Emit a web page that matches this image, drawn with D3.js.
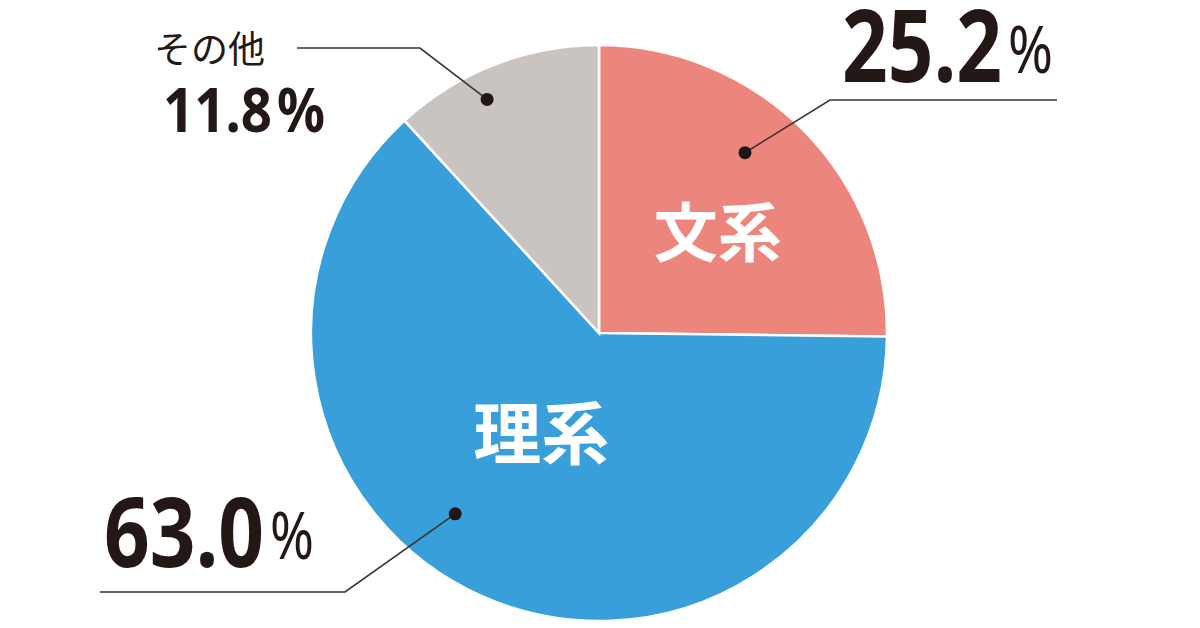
<!DOCTYPE html>
<html>
<head>
<meta charset="utf-8">
<script src="https://cdn.jsdelivr.net/npm/d3@7"></script>
<style>
  body { margin: 0; background: #fff; }
  svg { display: block; }
</style>
</head>
<body>
<div id="chart"></div>
<script>
// shares of students by field
var categories = ["文系", "理系", "その他"];
var values = [25.2, 63.0, 11.8];
var valueLabels = ["25.2", "63.0", "11.8"];
var colors = ["#ec857b", "#389fda", "#c9c4c0"];

var width = 1200, height = 628;
var cx = 599, cy = 333, radius = 288;

// callout layout: dot angle (deg clockwise from top) and radius, elbow, line end,
// number box (x, baseline, width, size) and percent sign box
var layout = [
  {dotA: 39, dotR: 232, elbow: [830, 100], end: 1057,
   num: [842, 82, 160, 100], pct: [1008, 73, 45, 66, 400], inner: [50, 155], innerSize: 64},
  {dotA: 218.5, dotR: 231, elbow: [345, 592], end: 100,
   num: [104, 567, 160, 97], pct: [270, 559, 44, 66, 400], inner: [209.6, 117], innerSize: 68},
  {dotA: 334.4, dotR: 259, elbow: [420, 48], end: 297,
   num: [163, 132, 109, 61], pct: [277, 132, 48, 61, 700], inner: null}
];

var svg = d3.select("#chart").append("svg")
    .attr("width", width)
    .attr("height", height);

var g = svg.append("g")
    .attr("transform", "translate(" + cx + "," + cy + ")");

var pie = d3.pie().sort(null).value(function(d) { return d; });
var arc = d3.arc().innerRadius(0).outerRadius(radius);
var arcs = pie(values);

g.selectAll("path.slice")
    .data(arcs)
  .enter().append("path")
    .attr("class", "slice")
    .attr("d", arc)
    .attr("fill", function(d, i) { return colors[i]; })
    .attr("stroke", "#fff")
    .attr("stroke-width", 2.5);

function polar(a, r) {
  var t = a * Math.PI / 180;
  return [cx + r * Math.sin(t), cy - r * Math.cos(t)];
}

var numFont = "'Noto Sans', 'Open Sans', sans-serif";

// text squeezed horizontally to fit a given width
function fitText(str, box, weight) {
  var t = svg.append("text")
      .attr("fill", "#231815")
      .attr("font-family", numFont)
      .attr("font-weight", weight)
      .attr("font-size", box[3])
      .text(str);
  var sx = box[2] / t.node().getComputedTextLength();
  t.attr("transform", "translate(" + box[0] + "," + box[1] + ") scale(" + sx + ",1)");
}

// inner labels
arcs.forEach(function(d, i) {
  var L = layout[i];
  if (!L.inner) return;
  var p = polar(L.inner[0], L.inner[1]);
  svg.append("text")
      .attr("x", p[0]).attr("y", p[1])
      .attr("text-anchor", "middle")
      .attr("dy", "0.36em")
      .attr("fill", "#fff")
      .attr("font-family", "'Noto Sans CJK JP', sans-serif")
      .attr("font-weight", 700)
      .attr("font-size", L.innerSize)
      .text(categories[i]);
});

// callouts
arcs.forEach(function(d, i) {
  var L = layout[i];
  var dot = polar(L.dotA, L.dotR);
  svg.append("polyline")
      .attr("points", [dot, L.elbow, [L.end, L.elbow[1]]].map(function(p) { return p.join(","); }).join(" "))
      .attr("fill", "none")
      .attr("stroke", "#3a3330")
      .attr("stroke-width", 1.6);
  svg.append("circle")
      .attr("cx", dot[0]).attr("cy", dot[1])
      .attr("r", 6.5)
      .attr("fill", "#1e1715");

  fitText(valueLabels[i], L.num, 700);
  fitText("%", L.pct, L.pct[4]);
});

// category name for the small slice
svg.append("text")
    .attr("x", 154).attr("y", 63)
    .attr("fill", "#231815")
    .attr("font-family", "'Noto Sans CJK JP', sans-serif")
    .attr("font-size", 37)
    .text(categories[2]);
</script>
</body>
</html>
